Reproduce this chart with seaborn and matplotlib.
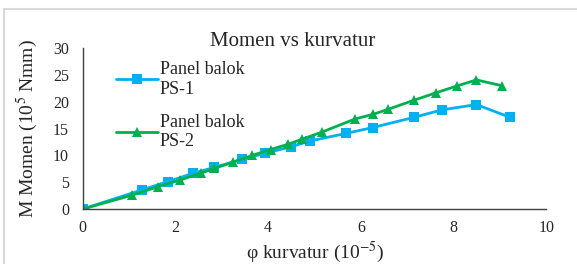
import pandas as pd
import seaborn as sns
import matplotlib.pyplot as plt
from matplotlib.patches import Rectangle

# values
ps1_x = [0, 1.27, 1.83, 2.38, 2.84, 3.43, 3.93, 4.48, 4.9, 5.67, 6.25, 7.14, 7.74, 8.49, 9.22]
ps1_y = [0, 3.55, 5.1, 6.66, 7.78, 9.27, 10.4, 11.6, 12.7, 14.1, 15.2, 17.1, 18.5, 19.5, 17.1]
ps2_x = [0, 1.07, 1.63, 2.09, 2.54, 2.84, 3.23, 3.65, 4.05, 4.43, 4.72, 5.17, 5.87, 6.27, 6.58,
         7.14, 7.62, 8.08, 8.49, 9.05]
ps2_y = [0, 2.6, 4.2, 5.4, 6.66, 7.6, 8.7, 10.0, 11.1, 12.1, 13.0, 14.4, 16.8, 17.7, 18.6,
         20.3, 21.7, 23.0, 24.1, 23.0]
labels = ["Panel balok\nPS-1", "Panel balok\nPS-2"]

df = pd.concat([
    pd.DataFrame({"x": ps1_x, "y": ps1_y, "Seri": labels[0]}),
    pd.DataFrame({"x": ps2_x, "y": ps2_y, "Seri": labels[1]}),
])

sns.set_style("white")
plt.rcParams["font.family"] = ["Liberation Serif", "DejaVu Serif"]
plt.rcParams["mathtext.fontset"] = "stix"

fig = plt.figure(figsize=(5.77, 2.64), dpi=100)
ax = fig.add_axes([0.1435, 0.2083, 0.8035, 0.6087])

fig.patches.append(Rectangle((0.007, -0.05), 1.2, 0.05 + 0.966, transform=fig.transFigure,
                             fill=False, edgecolor="#d9d9d9", lw=1.5))

sns.lineplot(data=df, x="x", y="y", hue="Seri", style="Seri", sort=False, ax=ax,
             palette={labels[0]: "#00b0f0", labels[1]: "#00b050"},
             markers={labels[0]: "s", labels[1]: "^"}, dashes=False,
             markersize=7, markeredgewidth=0, linewidth=2)

ax.set_xlim(0, 10)
ax.set_ylim(0, 30)
ax.set_xticks(range(0, 11, 2))
ax.set_yticks(range(0, 31, 5))
for s in ["top", "right"]:
    ax.spines[s].set_visible(False)
for s in ["left", "bottom"]:
    ax.spines[s].set_color("#404040")
    ax.spines[s].set_linewidth(1.0)
ax.tick_params(axis="both", direction="out", length=4, width=1, color="#404040",
               labelsize=11.5)
ax.tick_params(axis="y", pad=6)
ax.tick_params(axis="x", pad=4)

ax.set_title("Momen vs kurvatur", fontsize=15, pad=2, x=0.453)
ax.set_xlabel(r"φ kurvatur (10$^{-5}$)", fontsize=14)
ax.set_ylabel(r"M Momen (10$^{5}$ Nmm)", fontsize=14)
ax.xaxis.set_label_coords(0.5, -0.19)
ax.yaxis.set_label_coords(-0.093, 0.5)

ax.legend(loc="upper left", bbox_to_anchor=(0.045, 1.0), frameon=False, fontsize=13,
          handlelength=2.3, handletextpad=0.1, labelspacing=0.9, borderpad=0.2)

fig.savefig("out.png", dpi=100)
